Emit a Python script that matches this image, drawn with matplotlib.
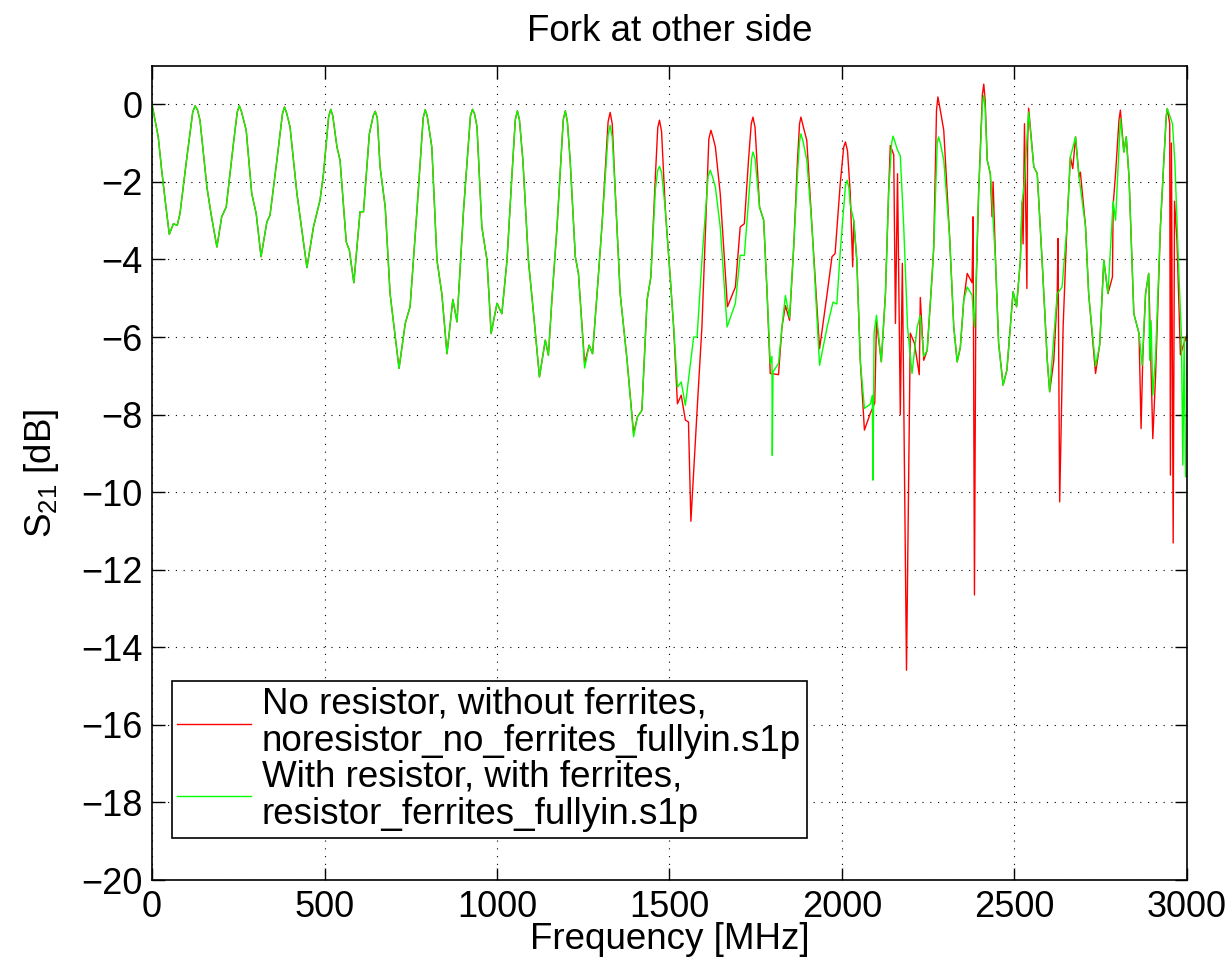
import numpy as np
import matplotlib
matplotlib.use('Agg')
import matplotlib.pyplot as plt

plt.rcParams['font.family'] = ['Liberation Sans', 'DejaVu Sans']
plt.rcParams['mathtext.fontset'] = 'custom'
plt.rcParams['mathtext.rm'] = 'Liberation Sans'
plt.rcParams['mathtext.it'] = 'Liberation Sans'

# part where both measurements are the same (0 .. ~1240 MHz)
common_f = [0, 18, 28, 38, 50, 62, 73, 81, 100, 118, 125, 132, 139, 159, 171, 188, 202, 215,
            236, 247, 253, 259, 273, 289, 302, 316, 333, 342, 362, 378, 384, 390, 400, 420,
            449, 468, 487, 497, 512, 518, 524, 536, 545, 563, 572, 585, 603, 613, 630,
            641, 647, 653, 661, 676, 690, 716, 734, 748, 768, 786, 792, 798, 811, 826,
            840, 855, 872, 884, 903, 923, 929, 935, 942, 956, 971, 983, 1000, 1014,
            1029, 1043, 1053, 1059, 1065, 1075, 1091, 1106, 1123, 1140, 1149, 1159,
            1174, 1192, 1198, 1204, 1212, 1227, 1236]
common_db = [0, -0.84, -1.70, -2.47, -3.35, -3.08, -3.12, -2.82, -1.44, -0.20, -0.04, -0.15,
             -0.41, -2.13, -2.82, -3.68, -2.90, -2.65, -1.01, -0.20, -0.04, -0.18, -0.67,
             -2.30, -2.82, -3.93, -3.03, -2.86, -1.44, -0.25, -0.07, -0.22, -0.58, -2.30,
             -4.21, -3.16, -2.47, -1.79, -0.32, -0.13, -0.30, -1.10, -1.44, -3.55, -3.76,
             -4.60, -2.77, -2.77, -0.76, -0.30, -0.18, -0.35, -1.61, -2.65, -4.88, -6.81,
             -5.65, -5.22, -2.73, -0.35, -0.14, -0.32, -1.10, -4.02, -4.88, -6.43, -5.03,
             -5.61, -2.73, -0.30, -0.13, -0.25, -0.58, -3.16, -4.02, -5.91, -5.13, -5.40,
             -4.02, -1.87, -0.40, -0.17, -0.40, -1.44, -4.02, -5.40, -7.03, -6.08, -6.47,
             -5.05, -3.16, -0.40, -0.17, -0.45, -1.44, -3.93, -4.36]

# no resistor, without ferrites
red_tail_f = [1254, 1267, 1277, 1290, 1304, 1322, 1328, 1334, 1343, 1357, 1377, 1396, 1407,
              1420, 1435, 1446, 1459, 1466, 1471, 1477, 1488, 1502, 1512, 1523, 1534, 1546,
              1555, 1562, 1580, 1594, 1614, 1620, 1626, 1633, 1647, 1668, 1691, 1705, 1717,
              1729, 1737, 1742, 1748, 1761, 1773, 1783, 1792, 1816, 1826, 1836, 1848, 1860,
              1871, 1877, 1881, 1887, 1898, 1913, 1935, 1957, 1971, 1980, 1995, 2005, 2010,
              2016, 2024, 2031, 2034, 2043, 2053, 2065, 2082, 2095, 2100, 2114, 2126, 2135,
              2140, 2150, 2155, 2161, 2169, 2175, 2187, 2198, 2210, 2224, 2227, 2237, 2247,
              2261, 2266, 2274, 2278, 2284, 2295, 2312, 2324, 2334, 2343, 2353, 2363, 2377,
              2380, 2384, 2388, 2396, 2407, 2411, 2415, 2421, 2430, 2435, 2438, 2445, 2454,
              2467, 2478, 2488, 2496, 2506, 2517, 2522, 2525, 2529, 2536, 2538, 2541, 2556,
              2566, 2580, 2595, 2602, 2614, 2624, 2626, 2631, 2641, 2652, 2662, 2669, 2677,
              2687, 2691, 2706, 2715, 2735, 2747, 2759, 2771, 2784, 2786, 2793, 2803, 2807,
              2817, 2824, 2832, 2846, 2861, 2867, 2872, 2880, 2889, 2901, 2909, 2923, 2933,
              2940, 2943, 2950, 2952, 2955, 2960, 2964, 2971, 2981, 2990, 3000]
red_tail_db = [-6.68, -6.21, -6.43, -4.88, -3.16, -0.45, -0.21, -0.50, -2.30, -4.88, -6.60,
               -8.49, -8.06, -7.89, -5.05, -4.45, -1.87, -0.60, -0.41, -0.70, -2.73, -4.45,
               -5.74, -7.72, -7.50, -8.14, -8.19, -10.75, -7.89, -5.74, -0.90, -0.67, -0.85,
               -1.10, -2.30, -5.22, -4.71, -3.16, -3.08, -1.44, -0.50, -0.33, -0.60, -2.65,
               -2.99, -4.88, -6.94, -6.97, -5.74, -5.19, -5.57, -3.68, -1.44, -0.50, -0.33,
               -0.55, -0.93, -3.16, -6.30, -4.88, -3.93, -3.85, -2.04, -1.10, -0.97, -1.20,
               -2.30, -4.19, -2.99, -4.02, -6.60, -8.40, -7.97, -7.70, -5.60, -6.64, -4.88,
               -2.30, -1.06, -1.30, -5.65, -1.79, -8.00, -4.10, -14.59, -5.90, -6.16, -6.97,
               -4.98, -6.60, -6.34, -4.45, -3.68, -0.15, 0.19, -0.10, -0.67, -3.42, -5.74,
               -6.64, -6.27, -5.05, -4.36, -4.60, -2.90, -12.65, -5.00, -2.30, 0.25, 0.52,
               0.10, -1.44, -1.79, -2.90, -2.00, -4.02, -6.16, -7.24, -6.85, -5.74, -4.83,
               -5.22, -4.02, -2.52, -3.60, -0.50, -4.75, -1.00, -0.10, -1.61, -1.79, -4.02,
               -6.60, -7.41, -6.60, -4.88, -3.46, -10.25, -5.74, -3.16, -1.36, -1.66, -0.84,
               -1.87, -1.75, -3.16, -4.88, -6.94, -6.20, -4.02, -4.88, -4.45, -2.60, -1.79,
               -0.40, -0.15, -1.23, -0.84, -1.87, -5.40, -5.91, -8.36, -6.50, -4.88, -4.36,
               -8.62, -7.00, -3.16, -1.44, -0.30, -0.11, -0.50, -9.56, -1.00, -11.31, -2.50,
               -3.50, -6.46, -6.20, -5.95]

# with resistor, with ferrites
green_tail_f = [1254, 1267, 1277, 1290, 1304, 1322, 1328, 1334, 1343, 1357, 1377, 1396,
                1407, 1420, 1435, 1446, 1459, 1466, 1471, 1477, 1488, 1502, 1512, 1523,
                1534, 1546, 1570, 1580, 1594, 1612, 1618, 1624, 1633, 1647, 1667, 1691,
                1705, 1717, 1729, 1738, 1742, 1748, 1761, 1773, 1783, 1792, 1797, 1798,
                1800, 1816, 1826, 1836, 1848, 1860, 1871, 1877, 1881, 1887, 1898, 1913,
                1935, 1957, 1974, 1985, 1995, 2010, 2015, 2020, 2024, 2034, 2043, 2053,
                2065, 2082, 2088, 2090, 2093, 2100, 2114, 2126, 2135, 2144, 2148, 2153,
                2160, 2169, 2179, 2190, 2203, 2218, 2227, 2237, 2247, 2261, 2266, 2276,
                2280, 2285, 2295, 2312, 2324, 2334, 2343, 2353, 2363, 2377, 2384, 2388,
                2396, 2407, 2411, 2415, 2421, 2430, 2445, 2454, 2467, 2478, 2488, 2496,
                2506, 2517, 2522, 2529, 2532, 2541, 2556, 2566, 2580, 2595, 2602, 2614,
                2624, 2638, 2652, 2662, 2677, 2687, 2706, 2715, 2735, 2747, 2759, 2771,
                2786, 2793, 2807, 2817, 2824, 2832, 2846, 2861, 2870, 2880, 2889, 2892,
                2896, 2901, 2909, 2923, 2933, 2940, 2943, 2958, 2965, 2975, 2984, 2988,
                2992, 2996, 3000]
green_tail_db = [-6.80, -6.21, -6.43, -4.88, -3.16, -0.80, -0.54, -0.85, -2.30, -4.88,
                 -6.60, -8.57, -8.06, -7.89, -5.05, -4.45, -2.20, -1.70, -1.60, -1.75,
                 -2.73, -4.45, -5.74, -7.29, -7.16, -7.76, -6.00, -6.00, -4.02, -1.85,
                 -1.70, -1.85, -2.13, -3.16, -5.74, -5.13, -3.89, -3.90, -2.50, -1.40,
                 -1.23, -1.40, -2.65, -2.99, -4.88, -6.68, -6.50, -9.05, -6.90, -6.68,
                 -5.74, -4.93, -5.50, -3.68, -1.80, -0.95, -0.76, -0.95, -1.44, -3.16,
                 -6.73, -5.74, -5.10, -5.15, -3.80, -2.10, -1.96, -2.15, -2.60, -2.99,
                 -4.02, -6.60, -7.84, -7.73, -7.50, -9.69, -5.90, -5.44, -6.64, -4.88,
                 -2.30, -1.00, -0.82, -0.95, -1.16, -1.33, -3.16, -5.74, -6.94, -5.74,
                 -5.44, -6.50, -6.34, -4.45, -3.68, -1.00, -0.84, -1.00, -1.44, -3.42,
                 -5.74, -6.64, -6.27, -5.05, -4.71, -4.92, -5.74, -4.80, -2.30, 0.00,
                 0.23, -0.10, -1.44, -1.79, -4.02, -6.16, -7.24, -6.85, -5.74, -4.83,
                 -5.22, -4.02, -2.52, -2.00, -1.50, -0.20, -1.61, -1.79, -4.02, -6.60,
                 -7.41, -6.00, -4.88, -4.71, -3.16, -1.36, -0.84, -1.87, -3.16, -4.88,
                 -6.75, -6.20, -4.02, -4.88, -2.50, -2.99, -0.37, -1.23, -0.84, -1.87,
                 -5.40, -5.91, -6.73, -4.88, -4.36, -6.60, -5.58, -7.50, -6.50, -3.16,
                 -1.44, -0.30, -0.11, -0.50, -1.50, -4.00, -6.00, -9.30, -6.00, -9.60,
                 -9.60]

red_f = np.array(common_f + red_tail_f)
red_db = np.array(common_db + red_tail_db)
green_f = np.array(common_f + green_tail_f)
green_db = np.array(common_db + green_tail_db)

fig = plt.figure(figsize=(12.29, 9.69), dpi=100)
ax = fig.add_axes([0.1237, 0.0918, 0.8421, 0.8406])

ax.plot(red_f, red_db, color='#ff0000', lw=1.0,
        label='No resistor, without ferrites,\nnoresistor_no_ferrites_fullyin.s1p')
ax.plot(green_f, green_db, color='#00ff00', lw=1.0,
        label='With resistor, with ferrites,\nresistor_ferrites_fullyin.s1p')

ax.set_xlim(0, 3000)
ax.set_ylim(-20, 1)
ax.set_xticks(np.arange(0, 3001, 500))
ax.set_yticks(np.arange(-20, 1, 2))
ax.tick_params(direction='in', length=9, width=1, top=True, right=True,
               labelsize=26, pad=7)
ax.grid(True, color='black', linestyle=(0, (1, 6)), lw=0.8)
for s in ax.spines.values():
    s.set_linewidth(1.2)

ax.set_title('Fork at other side', fontsize=26.5, pad=18)
ax.set_xlabel('Frequency [MHz]', fontsize=26.5, labelpad=-2)
ax.set_ylabel(r'S$_{21}$ [dB]', fontsize=26.5, labelpad=14)

leg = ax.legend(loc='lower left', bbox_to_anchor=(0.019, 0.052), fontsize=26.5,
                frameon=True, fancybox=False, framealpha=1, handlelength=2.0,
                handletextpad=0.3, borderpad=0.15, labelspacing=0.0,
                borderaxespad=0)
for t in leg.get_texts():
    t.set_linespacing(1.1)
leg.get_frame().set_edgecolor('black')
leg.get_frame().set_linewidth(1.2)

fig.savefig('out.png', dpi=100)
